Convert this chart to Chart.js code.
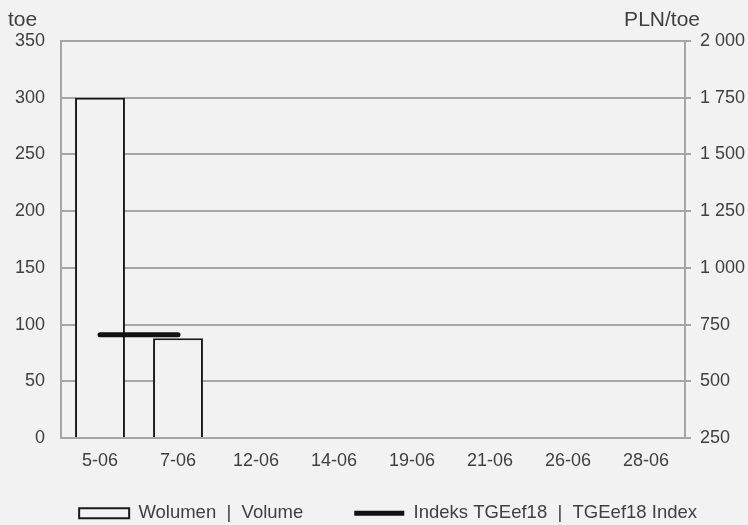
<!DOCTYPE html>
<html>
<head>
<meta charset="utf-8">
<script src="https://cdn.jsdelivr.net/npm/chart.js@4/dist/chart.umd.min.js"></script>
<style>
  html, body { margin: 0; padding: 0; background: #f2f2f2; }
  #wrap { width: 748px; height: 525px; }
</style>
</head>
<body>
<div id="wrap"><canvas id="chart"></canvas></div>
<script>
const labels = ['5-06', '7-06', '12-06', '14-06', '19-06', '21-06', '26-06', '28-06'];
const volume = [300, 88, null, null, null, null, null, null];
const indexPrice = [705, 705, null, null, null, null, null, null];
const volumeLabel = 'Wolumen  |  Volume';
const indexLabel = 'Indeks TGEef18  |  TGEef18 Index';

const textColor = '#404040';
const gridColor = '#a6a6a6';

// unit titles above both value axes
const axisTitles = {
  id: 'axisTitles',
  afterDraw(chart) {
    const ctx = chart.ctx;
    ctx.save();
    ctx.fillStyle = textColor;
    ctx.font = '21px "Liberation Sans", Arial, sans-serif';
    ctx.textBaseline = 'alphabetic';
    ctx.textAlign = 'left';
    ctx.fillText('toe', 8, 26);
    ctx.textAlign = 'right';
    ctx.fillText('PLN/toe', 700, 26);
    ctx.restore();
  }
};

// legend padding is big (wide gap between items), so stretch its box upward
const legendNudge = {
  id: 'legendNudge',
  afterLayout(chart) {
    const lg = chart.legend;
    if (!lg) return;
    lg.top -= 17;
    lg.height = lg.bottom - lg.top;
  }
};

Chart.defaults.font.family = '"Liberation Sans", Arial, sans-serif';
Chart.defaults.font.size = 18;
Chart.defaults.color = textColor;

new Chart(document.getElementById('chart'), {
  type: 'bar',
  data: {
    labels: labels,
    datasets: [{
      type: 'bar',
      label: volumeLabel,
      data: volume,
      yAxisID: 'y',
      backgroundColor: '#f2f2f2',
      borderColor: '#1a1a1a',
      borderWidth: 2,
      categoryPercentage: 1,
      barPercentage: 0.64,
      pointStyle: 'rect',
      order: 1
    }, {
      type: 'line',
      label: indexLabel,
      data: indexPrice,
      yAxisID: 'y1',
      borderColor: '#111111',
      backgroundColor: '#111111',
      borderWidth: 5,
      borderCapStyle: 'round',
      pointRadius: 0,
      pointStyle: 'line',
      order: 0
    }]
  },
  options: {
    responsive: true,
    maintainAspectRatio: false,
    animation: false,
    layout: { padding: { top: 41, left: 0, right: 0, bottom: 0 } },
    plugins: {
      tooltip: { enabled: false },
      legend: {
        position: 'bottom',
        align: 'end',
        maxHeight: 55,
        labels: {
          usePointStyle: true,
          pointStyleWidth: 50,
          boxHeight: 10,
          padding: 51,
          color: textColor,
          font: { size: 18.5 },
          sort: (a, b) => a.datasetIndex - b.datasetIndex
        }
      }
    },
    scales: {
      x: {
        grid: { display: false, drawTicks: false },
        border: { display: true, color: gridColor, width: 2 },
        ticks: { padding: 12, color: textColor, maxRotation: 0, autoSkip: false },
        afterFit: scale => { scale.height = 32; }
      },
      y: {
        position: 'left',
        min: 0,
        max: 350,
        ticks: { stepSize: 50, padding: 16, color: textColor },
        grid: { color: gridColor, lineWidth: 2, drawTicks: false },
        border: { color: gridColor, width: 2 },
        afterFit: scale => { scale.width = 61; }
      },
      y1: {
        position: 'right',
        min: 250,
        max: 2000,
        ticks: {
          stepSize: 250,
          padding: 9,
          color: textColor,
          callback: v => String(v).replace(/\B(?=(\d{3})+(?!\d))/g, ' ')
        },
        grid: { drawOnChartArea: false, color: gridColor, lineWidth: 2, tickLength: 6 },
        border: { color: gridColor, width: 2 },
        afterFit: scale => { scale.width = 63; }
      }
    }
  },
  plugins: [axisTitles, legendNudge]
});
</script>
</body>
</html>
